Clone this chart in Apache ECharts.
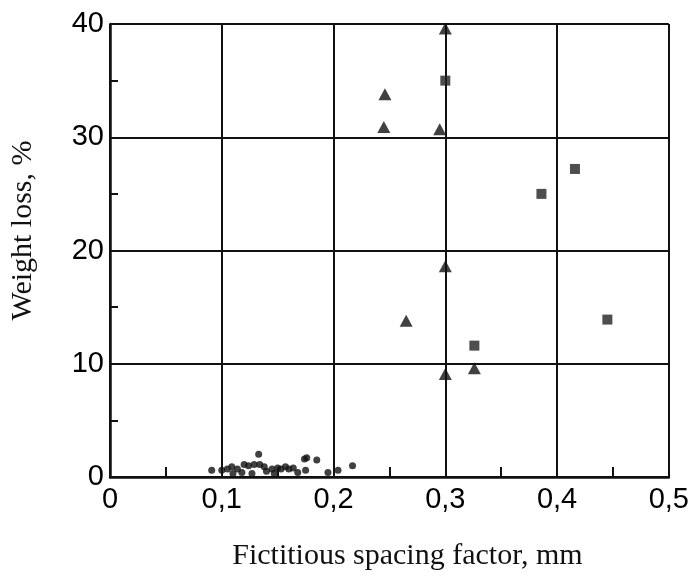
<!DOCTYPE html>
<html>
<head>
<meta charset="utf-8">
<script src="https://cdn.jsdelivr.net/npm/echarts@6/dist/echarts.min.js"></script>
<style>html,body{margin:0;padding:0;background:#fff;}#c{width:692px;height:576px;}</style>
</head>
<body>
<div id="c"></div>
<script>
// Data
var xTickLabels = ['0', '0,1', '0,2', '0,3', '0,4', '0,5'];
var yTickLabels = ['0', '10', '20', '30', '40'];

var dotsX = [0.091, 0.100, 0.105, 0.109, 0.114, 0.120, 0.124, 0.129, 0.133, 0.134, 0.138, 0.145, 0.153, 0.160, 0.164, 0.174, 0.176, 0.185, 0.175, 0.195, 0.204, 0.217, 0.127, 0.147, 0.110, 0.118, 0.140, 0.150, 0.157, 0.168];
var dotsY = [0.6, 0.6, 0.7, 0.9, 0.7, 1.1, 1.0, 1.1, 2.0, 1.1, 0.9, 0.7, 0.7, 0.7, 0.8, 1.6, 1.7, 1.5, 0.6, 0.4, 0.6, 1.0, 0.3, 0.3, 0.3, 0.4, 0.5, 0.8, 0.9, 0.4];

var triX = [0.246, 0.245, 0.295, 0.300, 0.265, 0.300, 0.300, 0.326];
var triY = [33.8, 30.9, 30.7, 39.6, 13.8, 18.6, 9.1, 9.6];

var sqX = [0.300, 0.326, 0.386, 0.416, 0.445];
var sqY = [35.0, 11.6, 25.0, 27.2, 13.9];

function zip(a, b) { return a.map(function (v, i) { return [v, b[i]]; }); }

var chart = echarts.init(document.getElementById('c'), null, { renderer: 'canvas' });
var axisFont = { fontFamily: 'Liberation Sans, Arial, sans-serif', fontSize: 29, color: '#000' };
chart.setOption({
  animation: false,
  backgroundColor: '#fff',
  grid: { left: 106, right: 17, top: 24, bottom: 97, containLabel: false },
  xAxis: {
    type: 'value', min: 0, max: 0.5, interval: 0.1,
    name: 'Fictitious spacing factor, mm',
    nameLocation: 'middle', nameGap: 64,
    nameTextStyle: { fontFamily: 'Liberation Serif, Times New Roman, serif', fontSize: 30, color: '#111', padding: [0, 0, 0, 36] },
    axisLine: { show: true, onZero: false, lineStyle: { color: '#111', width: 2.5 } },
    axisTick: { show: true, inside: true, length: 10, lineStyle: { color: '#111', width: 2 } },
    minorTick: { show: true, splitNumber: 2, length: 10, lineStyle: { color: '#111', width: 2 } },
    axisLabel: Object.assign({ margin: 8, formatter: function (v) { return xTickLabels[Math.round(v * 10)]; } }, axisFont),
    splitLine: { show: true, lineStyle: { color: '#111', width: 2 } }
  },
  yAxis: {
    type: 'value', min: 0, max: 40, interval: 10,
    name: 'Weight loss, %',
    nameLocation: 'middle', nameGap: 72,
    nameTextStyle: { fontFamily: 'Liberation Serif, Times New Roman, serif', fontSize: 30, color: '#111', padding: [0, 0, 0, 40] },
    axisLine: { show: true, onZero: false, lineStyle: { color: '#111', width: 2.5 } },
    axisTick: { show: true, inside: true, length: 8, lineStyle: { color: '#111', width: 2 } },
    minorTick: { show: true, splitNumber: 2, length: 8, lineStyle: { color: '#111', width: 2 } },
    axisLabel: Object.assign({ margin: 6, formatter: function (v) { return yTickLabels[Math.round(v / 10)]; } }, axisFont),
    splitLine: { show: true, lineStyle: { color: '#111', width: 2 } }
  },
  series: [
    { type: 'scatter', name: 'dots', data: zip(dotsX, dotsY), symbol: 'circle', symbolSize: 7, itemStyle: { color: '#111' } },
    { type: 'scatter', name: 'triangles', data: zip(triX, triY), symbol: 'triangle', symbolSize: [13, 12], itemStyle: { color: '#111' } },
    { type: 'scatter', name: 'squares', data: zip(sqX, sqY), symbol: 'rect', symbolSize: 10, itemStyle: { color: '#222' } }
  ]
});
</script>
</body>
</html>
